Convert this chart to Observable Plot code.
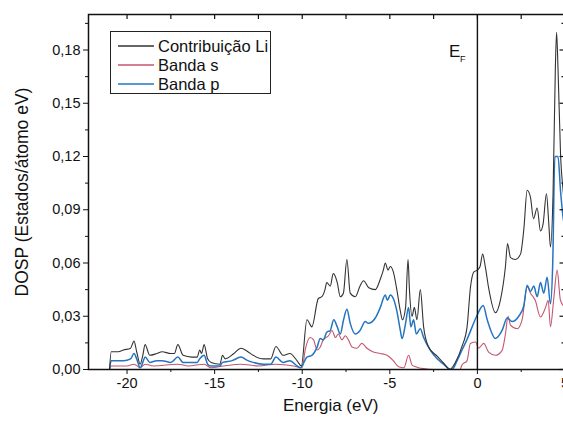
<!DOCTYPE html>
<html>
<head>
<meta charset="utf-8">
<script src="https://cdn.jsdelivr.net/npm/d3@7"></script>
<script src="https://cdn.jsdelivr.net/npm/@observablehq/plot@0.6"></script>
<style>
  html, body { margin: 0; padding: 0; background: #fff; overflow: hidden; }
  #wrap { position: relative; width: 563px; height: 421px; overflow: hidden; font-family: "Liberation Sans", Arial, sans-serif; }
  #chart svg { max-width: none !important; }
  #legend { position: absolute; left: 110px; top: 31px; width: 159px; height: 61px; border: 1px solid #222; background: #fff; }
</style>
</head>
<body>
<div id="wrap"><div id="chart"></div><div id="legend"></div></div>
<script>
// ---- data ----
const energyTotal = [-21.0,-20.9,-20.5,-20.2,-19.8,-19.6,-19.45,-19.25,-19.1,-18.97,-18.7,-18.3,-18.0,-17.5,-17.3,-17.1,-16.8,-16.3,-16.0,-15.85,-15.75,-15.6,-15.4,-15.2,-14.7,-14.55,-14.4,-13.9,-13.5,-13.1,-12.8,-12.2,-11.8,-11.5,-11.1,-10.7,-10.3,-10.05,
  -9.73,-9.45,-9.08,-8.88,-8.7,-8.6,-8.4,-8.23,-8.0,-7.83,-7.65,-7.45,-7.26,-6.97,-6.7,-6.5,-6.2,-5.83,-5.54,-5.37,-5.26,-5.1,-4.97,-4.8,-4.6,-4.4,-4.28,-4.1,-3.96,-3.88,-3.73,-3.6,-3.45,-3.26,-3.07,-2.8,-2.3,-1.83,-1.58,-1.26,-0.88,-0.59,-0.4,-0.2,0.0,0.15,0.3,0.45,0.64,1.03,1.31,1.6,1.72,1.89,2.17,2.46,2.65,2.84,3.03,3.2,3.41,3.6,3.75,3.94,4.07,4.17,4.32,4.45,4.52,4.6,4.75,4.9,5.0];
const dospTotal = [0,0.010,0.010,0.011,0.012,0.016,0.010,0.003,0.008,0.014,0.008,0.009,0.010,0.009,0.009,0.014,0.008,0.007,0.007,0.011,0.009,0.014,0.006,0.004,0.003,0.008,0.006,0.009,0.012,0.010,0.008,0.006,0.006,0.013,0.008,0.009,0.005,0.002,
  0.028,0.024,0.040,0.041,0.045,0.049,0.047,0.054,0.049,0.041,0.043,0.062,0.043,0.041,0.047,0.050,0.046,0.045,0.051,0.056,0.060,0.056,0.058,0.055,0.045,0.033,0.028,0.035,0.062,0.045,0.030,0.035,0.028,0.045,0.024,0.013,0.0075,0.0025,0.0,0.004,0.013,0.024,0.046,0.055,0.056,0.058,0.065,0.058,0.046,0.032,0.039,0.058,0.071,0.063,0.062,0.065,0.079,0.101,0.097,0.085,0.091,0.078,0.082,0.099,0.083,0.069,0.100,0.170,0.190,0.170,0.120,0.100,0.090];

const energyS = [-21.0,-20.9,-20.0,-19.6,-19.25,-18.97,-18.5,-17.1,-16.5,-15.6,-15.2,-14.5,-13.5,-12.5,-11.5,-10.5,-10.0,-9.83,-9.54,-9.35,-9.15,-8.97,-8.8,-8.5,-8.3,-8.1,-7.94,-7.73,-7.54,-7.36,-7.16,-6.87,-6.6,-6.3,-5.94,-5.54,-5.16,-4.8,-4.5,-4.2,-3.93,-3.73,-3.45,-3.08,-2.5,-1.0,-0.88,-0.59,-0.4,-0.1,0.07,0.36,0.64,1.03,1.41,1.6,1.75,1.89,2.27,2.55,2.84,3.03,3.3,3.6,3.89,4.04,4.17,4.35,4.55,4.74,5.0];
const dospS = [0,0.002,0.002,0.003,0.001,0.003,0.002,0.003,0.002,0.003,0.001,0.002,0.003,0.002,0.003,0.002,0.001,0.011,0.018,0.0167,0.011,0.0127,0.0167,0.019,0.022,0.018,0.020,0.0167,0.019,0.0167,0.0127,0.012,0.0147,0.012,0.0098,0.009,0.008,0.005,0.0015,0.001,0.008,0.0025,0.0013,0.0005,0,0,0.0025,0.005,0.0147,0.0155,0.012,0.0147,0.0098,0.008,0.0108,0.020,0.030,0.025,0.023,0.028,0.0466,0.043,0.039,0.0296,0.035,0.039,0.024,0.039,0.056,0.039,0.035];

const energyP = [-21.0,-20.9,-20.2,-19.8,-19.6,-19.45,-19.25,-19.1,-18.97,-18.7,-18.3,-18.0,-17.5,-17.1,-16.8,-16.0,-15.85,-15.6,-15.4,-15.2,-14.7,-14.55,-14.0,-13.5,-13.1,-12.8,-12.2,-11.8,-11.5,-11.1,-10.7,-10.3,-10.1,
  -9.73,-9.45,-9.15,-8.97,-8.8,-8.6,-8.4,-8.2,-8.0,-7.83,-7.64,-7.45,-7.26,-6.97,-6.7,-6.4,-6.23,-5.83,-5.54,-5.26,-5.14,-4.97,-4.8,-4.6,-4.4,-4.3,-4.1,-3.93,-3.8,-3.64,-3.49,-3.26,-3.07,-2.7,-2.3,-1.93,-1.64,-1.45,-1.16,-0.88,-0.59,-0.3,0.0,0.33,0.56,1.03,1.41,1.7,1.98,2.36,2.65,2.84,3.03,3.22,3.41,3.6,3.79,3.98,4.17,4.3,4.42,4.6,4.75,4.9,5.0];
const dospP = [0,0.005,0.005,0.006,0.009,0.006,0.001,0.004,0.007,0.004,0.005,0.005,0.004,0.007,0.004,0.004,0.006,0.008,0.003,0.002,0.002,0.004,0.005,0.007,0.005,0.004,0.003,0.003,0.007,0.004,0.005,0.002,0.001,
  0.007,0.008,0.0126,0.0175,0.0167,0.021,0.022,0.028,0.024,0.020,0.028,0.034,0.026,0.020,0.022,0.027,0.026,0.029,0.035,0.042,0.039,0.042,0.040,0.033,0.022,0.0175,0.026,0.035,0.024,0.028,0.020,0.023,0.018,0.011,0.006,0.003,0.0005,0,0.005,0.011,0.017,0.024,0.031,0.036,0.028,0.0175,0.022,0.029,0.027,0.030,0.036,0.0475,0.044,0.047,0.041,0.049,0.043,0.052,0.037,0.060,0.120,0.120,0.100,0.085,0.080];

const xTicks = [-20, -15, -10, -5, 0, 5];
const xMinorTicks = [-22.5, -17.5, -12.5, -7.5, -2.5, 2.5];
const yTicks = [0, 0.03, 0.06, 0.09, 0.12, 0.15, 0.18];
const yMinorTicks = [0.015, 0.045, 0.075, 0.105, 0.135, 0.165, 0.195];
const seriesNames = ["Contribuição Li", "Banda s", "Banda p"];
const seriesColors = ["#333333", "#c4566e", "#2474c0"];
const xTitle = "Energia (eV)";
const yTitle = "DOSP (Estados/átomo eV)";
const fermiLabel = {x: -1.3, y: 0.179};

const xDomain = [-22.2, 5];
const yDomain = [0, 0.2];

const toRows = (es, vs) => es.map((e, i) => ({e, v: vs[i]}));
const total = toRows(energyTotal, dospTotal);
const sBand = toRows(energyS, dospS);
const pBand = toRows(energyP, dospP);

const fmtY = d => d.toFixed(2).replace(".", ",");
const fmtX = d => String(d);

const chart = Plot.plot({
  width: 570,
  height: 421,
  marginLeft: 88,
  marginRight: 5.5,
  marginTop: 14,
  marginBottom: 52,
  style: {fontFamily: "'Liberation Sans', Arial, sans-serif", fontSize: "14.5px", color: "#111", background: "transparent", maxWidth: "none"},
  x: {domain: xDomain, axis: null},
  y: {domain: yDomain, axis: null},
  marks: [
    Plot.line(sBand, {x: "e", y: "v", stroke: seriesColors[1], strokeWidth: 1.1, curve: "monotone-x", clip: true}),
    Plot.line(pBand, {x: "e", y: "v", stroke: seriesColors[2], strokeWidth: 1.5, curve: "monotone-x", clip: true}),
    Plot.line(total, {x: "e", y: "v", stroke: seriesColors[0], strokeWidth: 1.1, curve: "monotone-x", clip: true}),
    Plot.ruleX([0], {stroke: "#111", strokeWidth: 1.4}),
    Plot.frame({stroke: "#111", strokeWidth: 1.5}),
    Plot.axisX(xTicks, {anchor: "bottom", tickSize: 5, tickPadding: 3, tickFormat: fmtX, stroke: "#111"}),
    Plot.axisX(xMinorTicks.filter(d => d >= xDomain[0]), {anchor: "bottom", tickSize: 3, tickFormat: () => "", stroke: "#111"}),
    Plot.axisY(yTicks, {anchor: "left", tickSize: 5, tickPadding: 3, tickFormat: fmtY, stroke: "#111"}),
    Plot.axisY(yMinorTicks, {anchor: "left", tickSize: 3, tickFormat: () => "", stroke: "#111"}),
    Plot.ruleX(xTicks.concat(xMinorTicks).filter(d => d >= xDomain[0] && d <= xDomain[1]), {x: d => d, y1: yDomain[1], y2: yDomain[1], insetBottom: -5, stroke: "#111", strokeWidth: 1.2}),
    Plot.ruleY(yTicks, {y: d => d, x1: xDomain[1], x2: xDomain[1], insetLeft: -5, stroke: "#111", strokeWidth: 1.2}),
    Plot.ruleY(yMinorTicks, {y: d => d, x1: xDomain[1], x2: xDomain[1], insetLeft: -3, stroke: "#111", strokeWidth: 1.2}),
    Plot.text([fermiLabel], {x: "x", y: "y", text: () => "E", fontSize: 17, fill: "#111"}),
    Plot.text([fermiLabel], {x: "x", y: "y", text: () => "F", fontSize: 9, dx: 8, dy: 7, fill: "#111"}),
    Plot.text([xTitle], {text: d => d, frameAnchor: "bottom", textAnchor: "middle", dy: 41, dx: 4, fontSize: 17, fill: "#111"}),
    Plot.text([yTitle], {text: d => d, frameAnchor: "left", textAnchor: "middle", dx: -66, rotate: -90, fontSize: 17.5, fill: "#111"})
  ]
});
document.getElementById("chart").appendChild(chart);

// legend inside the plot frame
const legend = d3.select("#legend");
const lsvg = legend.append("svg").attr("width", 159).attr("height", 61);
seriesNames.forEach((name, i) => {
  const cy = 14 + i * 19;
  lsvg.append("line").attr("x1", 7).attr("x2", 43).attr("y1", cy).attr("y2", cy)
    .attr("stroke", seriesColors[i]).attr("stroke-width", 1.3);
  lsvg.append("text").attr("x", 47).attr("y", cy).attr("dy", "0.35em")
    .attr("font-size", 16.5).attr("fill", "#111")
    .attr("font-family", "'Liberation Sans', Arial, sans-serif").text(name);
});
</script>
</body>
</html>
